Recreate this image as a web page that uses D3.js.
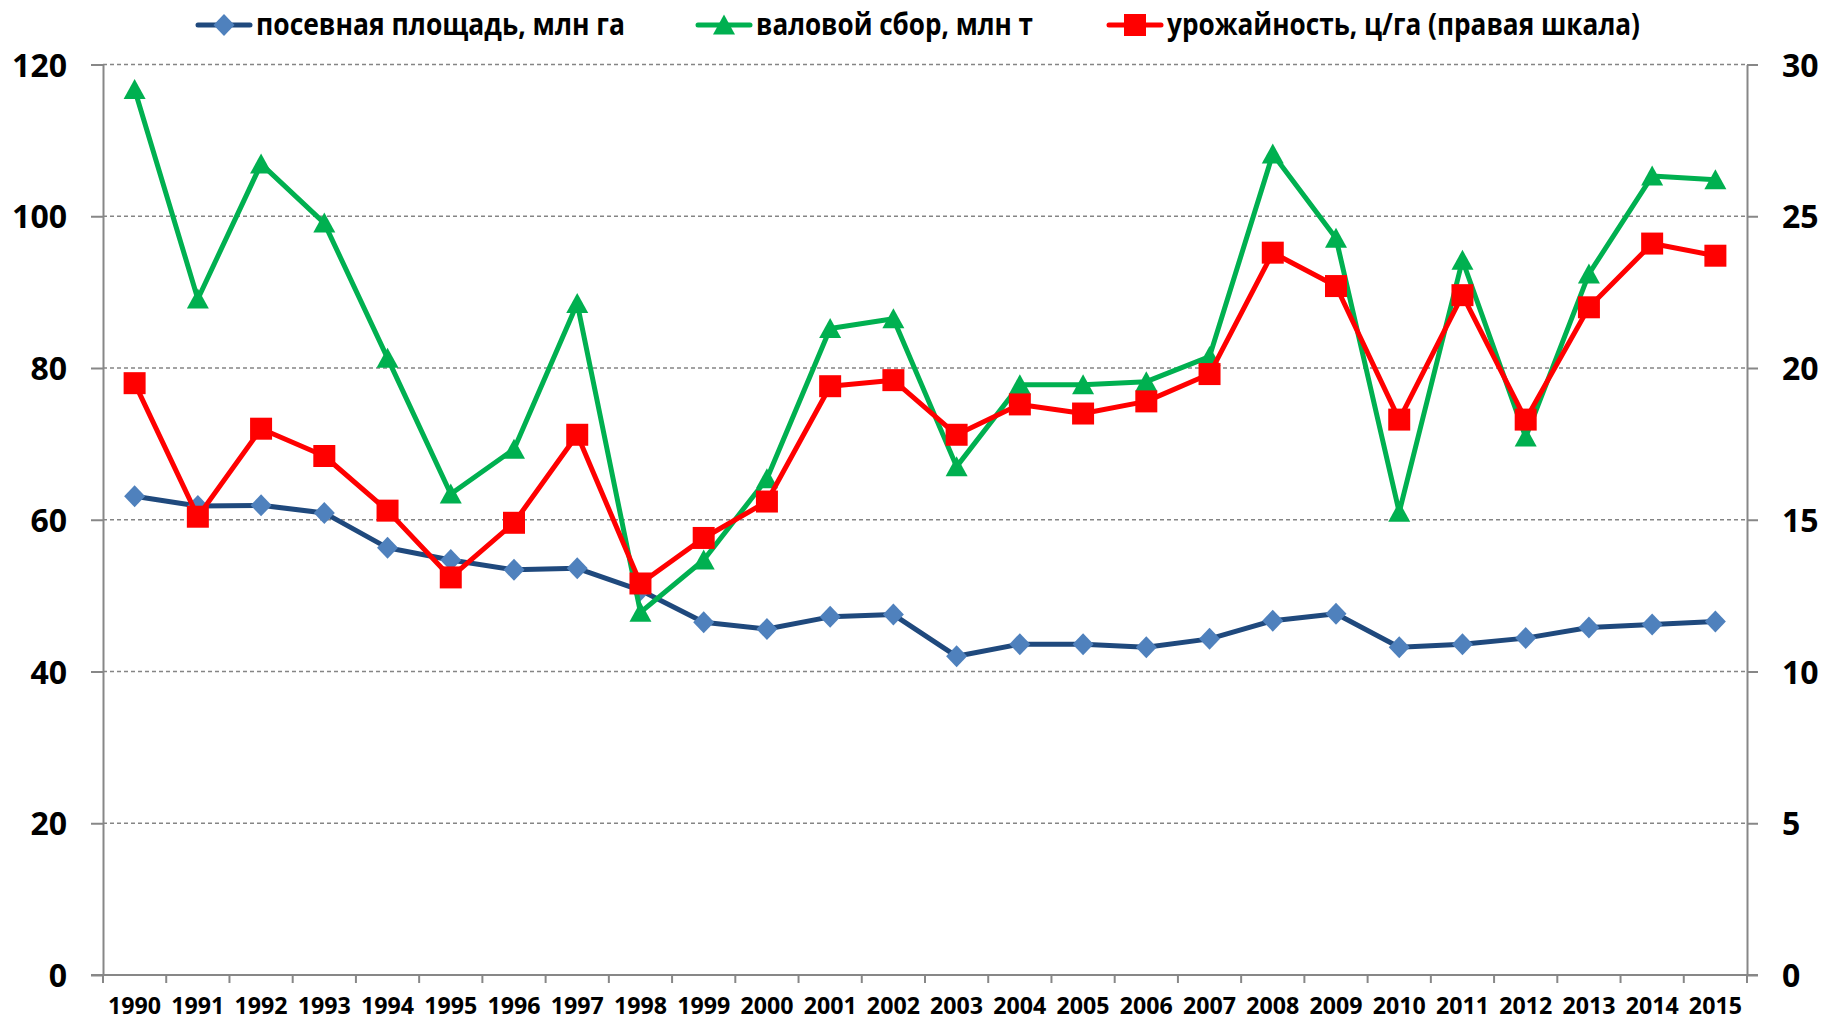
<!DOCTYPE html>
<html>
<head>
<meta charset="utf-8">
<script src="https://cdn.jsdelivr.net/npm/d3@7"></script>
<style>
  html, body { margin: 0; padding: 0; background: #fff; }
  svg { display: block; }
  text { font-family: "Open Sans", "DejaVu Sans", sans-serif; font-weight: 700; fill: #000; }
</style>
</head>
<body>
<svg id="chart" width="1824" height="1021"></svg>
<script>
const years = ["1990","1991","1992","1993","1994","1995","1996","1997","1998","1999","2000","2001","2002","2003","2004","2005","2006","2007","2008","2009","2010","2011","2012","2013","2014","2015"];
const sownArea = [63.1,61.8,61.9,60.9,56.3,54.7,53.4,53.6,50.7,46.5,45.6,47.2,47.5,42.0,43.6,43.6,43.2,44.3,46.7,47.6,43.2,43.6,44.4,45.8,46.2,46.6];
const grossHarvest = [116.7,89.1,106.9,99.1,81.3,63.4,69.3,88.5,47.8,54.7,65.4,85.2,86.5,67.0,77.8,77.8,78.2,81.5,108.2,97.1,61.0,94.2,70.9,92.4,105.3,104.8];
const yieldValues = [19.5,15.1,18.0,17.1,15.3,13.1,14.9,17.8,12.9,14.4,15.6,19.4,19.6,17.8,18.8,18.5,18.9,19.8,23.8,22.7,18.3,22.4,18.3,22.0,24.1,23.7];
const leftTicks = [0,20,40,60,80,100,120];
const rightTicks = [0,5,10,15,20,25,30];
const legendLabels = ["посевная площадь, млн га","валовой сбор, млн т","урожайность, ц/га (правая шкала)"];

const svg = d3.select("#chart");
const L = 103, R = 1747, T = 64.5, B = 975;

const x = d3.scaleBand().domain(years).range([L, R]).padding(0);
const yL = d3.scaleLinear().domain([0, 120]).range([B, T]);
const yR = d3.scaleLinear().domain([0, 30]).range([B, T]);
const cx = d => x(d) + x.bandwidth() / 2;

const gridColor = "#858585", axisColor = "#878787";

// gridlines
svg.append("g").selectAll("line").data(leftTicks.filter(v => v > 0)).join("line")
  .attr("x1", L).attr("x2", R)
  .attr("y1", d => yL(d)).attr("y2", d => yL(d))
  .attr("stroke", gridColor).attr("stroke-width", 1.4)
  .attr("stroke-dasharray", "4,3");

// left axis
const gLeft = svg.append("g").attr("transform", `translate(${L},0)`)
  .call(d3.axisLeft(yL).tickValues(leftTicks).tickSize(12).tickPadding(24).tickSizeOuter(0));
gLeft.select(".domain").attr("stroke", axisColor).attr("stroke-width", 2);
gLeft.selectAll(".tick line").attr("stroke", axisColor).attr("stroke-width", 2);
gLeft.selectAll(".tick text").attr("font-size", 32).attr("font-family", "Open Sans").attr("font-weight", 700).attr("dy", "0.36em");

// right axis
const gRight = svg.append("g").attr("transform", `translate(${R},0)`)
  .call(d3.axisRight(yR).tickValues(rightTicks).tickSize(11).tickPadding(24).tickSizeOuter(0));
gRight.select(".domain").attr("stroke", axisColor).attr("stroke-width", 2);
gRight.selectAll(".tick line").attr("stroke", axisColor).attr("stroke-width", 2);
gRight.selectAll(".tick text").attr("font-size", 32).attr("font-family", "Open Sans").attr("font-weight", 700).attr("dy", "0.36em");

// bottom axis labels
const gBottom = svg.append("g").attr("transform", `translate(0,${B})`)
  .call(d3.axisBottom(x).tickSize(0).tickPadding(22.5).tickSizeOuter(0));
gBottom.select(".domain").attr("stroke", axisColor).attr("stroke-width", 2).attr("d", `M${L - 12},0H${R + 11}`);
gBottom.selectAll(".tick text").attr("font-size", 23.2).attr("font-family", "Open Sans").attr("font-weight", 700);
// boundary ticks
const bounds = years.map(d => x(d)).concat([R]);
svg.append("g").selectAll("line").data(bounds).join("line")
  .attr("x1", d => d).attr("x2", d => d)
  .attr("y1", B).attr("y2", B + 8)
  .attr("stroke", axisColor).attr("stroke-width", 2);

// series
const series = [
  { vals: sownArea, scale: yL, line: "#1F497D", fill: "#4F81BD", marker: "diamond" },
  { vals: grossHarvest, scale: yL, line: "#00B050", fill: "#00B050", marker: "triangle" },
  { vals: yieldValues, scale: yR, line: "#FF0000", fill: "#FF0000", marker: "square" }
];

function markerPath(type) {
  if (type === "diamond") return "M0,-11L10.5,0L0,11L-10.5,0Z";
  if (type === "triangle") return "M0,-10.5L11,9.5L-11,9.5Z";
  return "M-11,-11H11V11H-11Z";
}

series.forEach(s => {
  const g = svg.append("g");
  const lineGen = d3.line().x((d, i) => cx(years[i])).y(d => s.scale(d));
  g.append("path").datum(s.vals).attr("d", lineGen)
    .attr("fill", "none").attr("stroke", s.line).attr("stroke-width", 5)
    .attr("stroke-linejoin", "round").attr("stroke-linecap", "round");
  g.selectAll("path.m").data(s.vals).join("path").attr("class", "m")
    .attr("transform", (d, i) => `translate(${cx(years[i])},${s.scale(d)})`)
    .attr("d", markerPath(s.marker))
    .attr("fill", s.fill);
});

// legend
const legendItems = [
  { lx: 198, tx: 256, w: 369 },
  { lx: 698, tx: 756, w: 277 },
  { lx: 1109, tx: 1167, w: 473 }
];
const ly = 25;
legendItems.forEach((it, i) => {
  const s = series[i];
  const g = svg.append("g");
  g.append("line").attr("x1", it.lx).attr("x2", it.lx + 52).attr("y1", ly).attr("y2", ly)
    .attr("stroke", s.line).attr("stroke-width", 5).attr("stroke-linecap", "round");
  g.append("path").attr("transform", `translate(${it.lx + 26},${ly})`)
    .attr("d", markerPath(s.marker)).attr("fill", s.fill);
  g.append("text").attr("x", it.tx).attr("y", 35).attr("font-size", 30)
    .attr("textLength", it.w).attr("lengthAdjust", "spacingAndGlyphs")
    .text(legendLabels[i]);
});
</script>
</body>
</html>
